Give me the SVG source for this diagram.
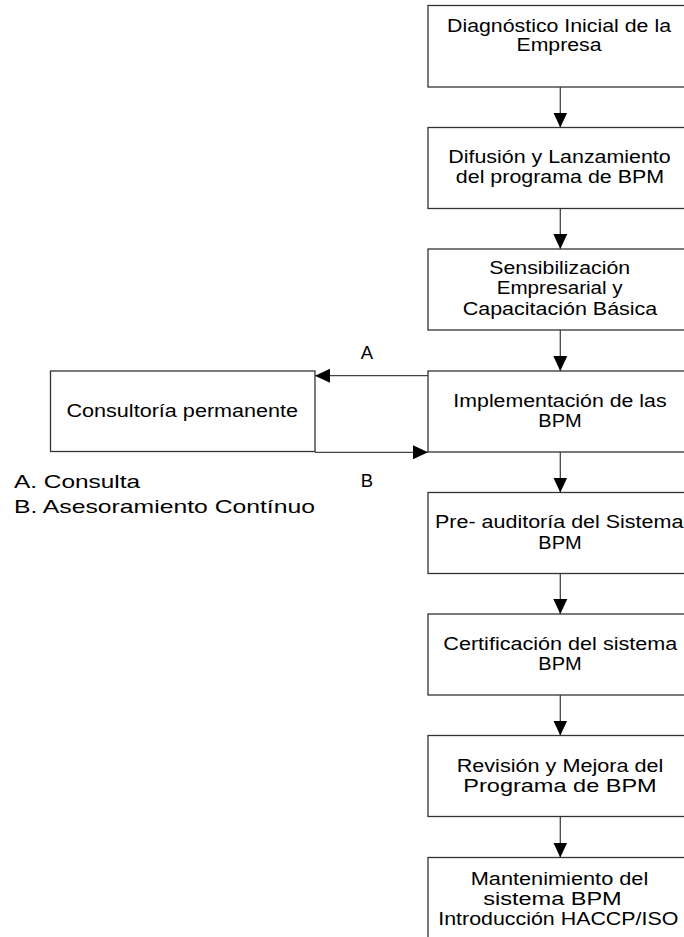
<svg xmlns="http://www.w3.org/2000/svg" width="684" height="937" viewBox="0 0 684 937">
<style>
.box{fill:#fff;stroke:#333;stroke-width:1.3}
.t{font-family:"Liberation Sans",Arial,sans-serif;font-size:17.5px;fill:#000;text-anchor:middle}
.lbl{font-family:"Liberation Sans",Arial,sans-serif;font-size:18.5px;fill:#000;text-anchor:middle}
.lg{font-family:"Liberation Sans",Arial,sans-serif;font-size:18.5px;fill:#000}
.c{fill:none;stroke:#444;stroke-width:1.3}
</style>
<defs>
<marker id="ah" markerUnits="userSpaceOnUse" markerWidth="16" markerHeight="16" viewBox="0 0 16 16" refX="15" refY="8" orient="auto">
<path d="M0,1 L15,8 L0,15 Z" fill="#000"/>
</marker>
</defs>
<rect width="684" height="937" fill="#fff"/>
<g id="connectors">
<line class="c" x1="560.3" y1="87" x2="560.3" y2="127.5" marker-end="url(#ah)"/>
<line class="c" x1="560.3" y1="208.5" x2="560.3" y2="249" marker-end="url(#ah)"/>
<line class="c" x1="560.3" y1="330" x2="560.3" y2="371" marker-end="url(#ah)"/>
<line class="c" x1="560.3" y1="452" x2="560.3" y2="492.5" marker-end="url(#ah)"/>
<line class="c" x1="560.3" y1="573.5" x2="560.3" y2="614" marker-end="url(#ah)"/>
<line class="c" x1="560.3" y1="695" x2="560.3" y2="735.5" marker-end="url(#ah)"/>
<line class="c" x1="560.3" y1="816.5" x2="560.3" y2="857.5" marker-end="url(#ah)"/>
<line class="c" x1="428" y1="375.7" x2="315" y2="375.7" marker-end="url(#ah)"/>
<line class="c" x1="315" y1="452.3" x2="428" y2="452.3" marker-end="url(#ah)"/>
<text class="lbl" x="367" y="359">A</text>
<text class="lbl" x="367" y="487">B</text>
</g>
<g id="n1">
<rect class="box" x="428" y="5.5" width="266" height="81.5"/>
<text class="t" x="559" y="31.5" textLength="224" lengthAdjust="spacingAndGlyphs">Diagnóstico Inicial de la</text>
<text class="t" x="559" y="51" textLength="85" lengthAdjust="spacingAndGlyphs">Empresa</text>
</g>
<g id="n2">
<rect class="box" x="428" y="127.5" width="266" height="81"/>
<text class="t" x="559.5" y="163.3" textLength="222.4" lengthAdjust="spacingAndGlyphs">Difusión y Lanzamiento</text>
<text class="t" x="560" y="183.3" textLength="208.3" lengthAdjust="spacingAndGlyphs">del programa de BPM</text>
</g>
<g id="n3">
<rect class="box" x="428" y="249" width="266" height="81"/>
<text class="t" x="559.7" y="274" textLength="140.7" lengthAdjust="spacingAndGlyphs">Sensibilización</text>
<text class="t" x="559.7" y="294.3" textLength="126" lengthAdjust="spacingAndGlyphs">Empresarial y</text>
<text class="t" x="560" y="315" textLength="194.6" lengthAdjust="spacingAndGlyphs">Capacitación Básica</text>
</g>
<g id="n4">
<rect class="box" x="428" y="371" width="266" height="81"/>
<text class="t" x="560" y="406.7" textLength="213.3" lengthAdjust="spacingAndGlyphs">Implementación de las</text>
<text class="t" x="560" y="426.7" textLength="43.4" lengthAdjust="spacingAndGlyphs">BPM</text>
</g>
<g id="n5">
<rect class="box" x="428" y="492.5" width="266" height="81"/>
<text class="t" x="559.2" y="528.3" textLength="248.3" lengthAdjust="spacingAndGlyphs">Pre- auditoría del Sistema</text>
<text class="t" x="560" y="549" textLength="43.4" lengthAdjust="spacingAndGlyphs">BPM</text>
</g>
<g id="n6">
<rect class="box" x="428" y="614" width="266" height="81"/>
<text class="t" x="560.3" y="650" textLength="234" lengthAdjust="spacingAndGlyphs">Certificación del sistema</text>
<text class="t" x="560" y="670" textLength="43.4" lengthAdjust="spacingAndGlyphs">BPM</text>
</g>
<g id="n7">
<rect class="box" x="428" y="735.5" width="266" height="81"/>
<text class="t" x="560" y="771.7" textLength="206.6" lengthAdjust="spacingAndGlyphs">Revisión y Mejora del</text>
<text class="t" x="560" y="791.7" textLength="193.4" lengthAdjust="spacingAndGlyphs">Programa de BPM</text>
</g>
<g id="n8">
<rect class="box" x="428" y="857.5" width="266" height="100"/>
<text class="t" x="559.5" y="885" textLength="177.6" lengthAdjust="spacingAndGlyphs">Mantenimiento del</text>
<text class="t" x="552.5" y="905" textLength="138.4" lengthAdjust="spacingAndGlyphs">sistema BPM</text>
<text class="t" x="558.3" y="925" textLength="240" lengthAdjust="spacingAndGlyphs">Introducción HACCP/ISO</text>
</g>
<g id="consultoria">
<rect class="box" x="50.5" y="371" width="264.5" height="80.5"/>
<text class="t" x="182.3" y="417.3" textLength="231.7" lengthAdjust="spacingAndGlyphs">Consultoría permanente</text>
</g>
<g id="legend">
<text class="lg" x="14" y="488" textLength="126" lengthAdjust="spacingAndGlyphs">A. Consulta</text>
<text class="lg" x="14" y="513" textLength="301" lengthAdjust="spacingAndGlyphs">B. Asesoramiento Contínuo</text>
</g>
</svg>
